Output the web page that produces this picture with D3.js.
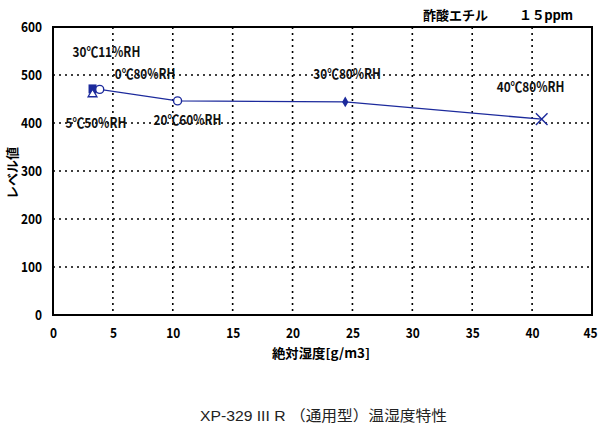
<!DOCTYPE html>
<html><head><meta charset="utf-8">
<script src="https://cdn.jsdelivr.net/npm/d3@7"></script>
<style>
body{margin:0;background:#fff;}
text{font-family:"Noto Sans CJK JP",sans-serif;}
</style></head><body>
<svg id="c" width="600" height="426"></svg>
<script>
const xTicks=[0,5,10,15,20,25,30,35,40,45];
const yTicks=[0,100,200,300,400,500,600];
const pointNames=["30℃11%RH","5℃50%RH","0℃80%RH","20℃60%RH","30℃80%RH","40℃80%RH"];
const absHumidity=[3.3,3.3,3.9,10.4,24.4,40.8];
const levelValues=[471,460,470,446,444,408];
const markerTypes=["square","triangle","circle","circle","diamond","cross"];
const titleParts=["酢酸エチル","１５ppm"];
const xLabel="絶対湿度[g/m3]";
const yLabel="レベル値";
const footerText="XP-329 III R （通用型）温湿度特性";

const svg=d3.select("#c");
const m={l:53,r:592,t:27,b:315};
const x=d3.scaleLinear().domain([0,45]).range([m.l,m.r]);
const y=d3.scaleLinear().domain([0,600]).range([m.b,m.t]);
const blue="#1c2a9c";
const squeeze=(sel,f)=>sel.each(function(){const w=this.getComputedTextLength();
  d3.select(this).attr("textLength",w*f).attr("lengthAdjust","spacingAndGlyphs");});

// grid
svg.append("g").selectAll("line").data(xTicks.slice(1,-1)).join("line")
 .attr("x1",d=>x(d)).attr("x2",d=>x(d)).attr("y1",m.t).attr("y2",m.b)
 .attr("stroke","#000").attr("stroke-width",1.6).attr("stroke-dasharray","2,4");
svg.append("g").selectAll("line").data(yTicks.slice(1,-1)).join("line")
 .attr("y1",d=>y(d)).attr("y2",d=>y(d)).attr("x1",m.l).attr("x2",m.r)
 .attr("stroke","#000").attr("stroke-width",1.6).attr("stroke-dasharray","2,4");
svg.append("rect").attr("x",m.l).attr("y",m.t).attr("width",m.r-m.l).attr("height",m.b-m.t)
 .attr("fill","none").attr("stroke","#000").attr("stroke-width",2);

// axes
const xa=svg.append("g").attr("transform",`translate(0,${m.b})`)
 .call(d3.axisBottom(x).tickValues(xTicks).tickSize(0).tickPadding(13));
const ya=svg.append("g").attr("transform",`translate(${m.l},0)`)
 .call(d3.axisLeft(y).tickValues(yTicks).tickSize(0).tickPadding(11));
[xa,ya].forEach(a=>{a.select(".domain").remove();
 a.selectAll("text").attr("font-size",14).attr("font-weight","bold").attr("fill","#000")
  .style("font-family",'"Noto Sans CJK JP",sans-serif').call(squeeze,0.85);});
xa.selectAll("text").filter(d=>d===45).attr("text-anchor","end").attr("dx",5);

// line
const pts=absHumidity.map((v,i)=>({x:v,y:levelValues[i],t:markerTypes[i],n:pointNames[i]}));
svg.append("path").datum(pts.slice().sort((a,b)=>a.x-b.x||b.y-a.y))
 .attr("d",d3.line().x(d=>x(d.x)).y(d=>y(d.y)))
 .attr("fill","none").attr("stroke",blue).attr("stroke-width",1.4);

// markers
const mg=svg.append("g");
pts.forEach(p=>{
 const cx=x(p.x),cy=y(p.y);
 if(p.t==="triangle")mg.append("path").attr("d",d3.symbol(d3.symbolTriangle,34)()).attr("transform",`translate(${cx},${cy})`).attr("fill","#fff").attr("stroke",blue).attr("stroke-width",1.3);
 if(p.t==="square")mg.append("rect").attr("x",cx-4).attr("y",cy-4.5).attr("width",8).attr("height",9).attr("fill",blue);
 if(p.t==="circle")mg.append("circle").attr("cx",cx).attr("cy",cy).attr("r",4).attr("fill","#fff").attr("stroke",blue).attr("stroke-width",1.4);
 if(p.t==="diamond")mg.append("path").attr("d",d3.symbol(d3.symbolDiamond,34)()).attr("transform",`translate(${cx},${cy})`).attr("fill",blue);
 if(p.t==="cross")mg.append("path").attr("d",d3.symbol(d3.symbolTimes,90)()).attr("transform",`translate(${cx},${cy})`).attr("fill","none").attr("stroke",blue).attr("stroke-width",1.4);
});
mg.selectAll("circle").raise();

// point labels (offsets in px relative to the marker, text anchored at start)
const labelOff=[[-20,-32],[-27,34],[15,-10],[-24,24],[-32,-23],[-45,-27]];
svg.append("g").selectAll("text").data(pts).join("text")
 .attr("x",(d,i)=>x(d.x)+labelOff[i][0]).attr("y",(d,i)=>y(d.y)+labelOff[i][1])
 .attr("font-size",14).attr("font-weight","bold")
 .attr("fill","#111").text(d=>d.n).call(squeeze,0.84);

// titles
svg.append("text").attr("x",423).attr("y",20)
 .attr("font-size",13).attr("font-weight","bold").text(titleParts[0]);
svg.append("text").attr("x",519).attr("y",20)
 .attr("font-size",13).attr("font-weight","bold").text(titleParts[1])
 .attr("textLength",54).attr("lengthAdjust","spacing");
svg.append("text").attr("x",272).attr("y",358)
 .attr("font-size",13).attr("font-weight","bold").text(xLabel)
 .attr("textLength",98).attr("lengthAdjust","spacingAndGlyphs");
svg.append("text").attr("transform","translate(17,173) rotate(-90)").attr("text-anchor","middle")
 .attr("font-size",13).attr("font-weight","bold").text(yLabel);
svg.append("text").attr("x",200).attr("y",421)
 .attr("font-size",15).attr("fill","#222").style("font-family",'"Liberation Sans","Noto Sans CJK JP",sans-serif').text(footerText)
 .attr("textLength",247).attr("lengthAdjust","spacingAndGlyphs");
</script></body></html>
